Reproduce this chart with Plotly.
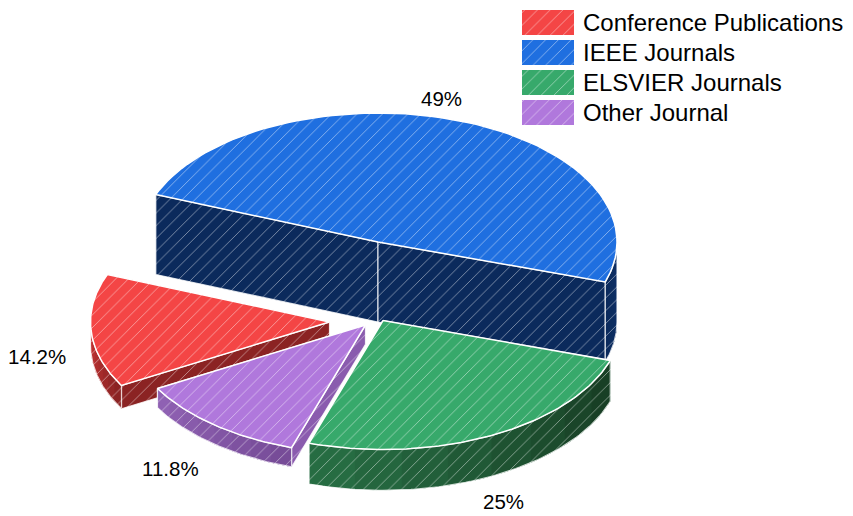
import math
import plotly.graph_objects as go

categories = ["Conference Publications", "IEEE Journals", "ELSVIER Journals", "Other Journal"]
values = [14.2, 49, 25, 11.8]
labels = ["14.2%", "49%", "25%", "11.8%"]

top_colors = ["#F44545", "#1F6FE0", "#37A96B", "#B078DC"]
radial_colors = ["#8B2323", "#0B2A5C", "#1B4A2C", "#8A5BAE"]
outer_start = ["#C93535", "#0B2A5C", "#266C42", "#8F61B3"]
outer_end = ["#8B2323", "#0E3068", "#183F25", "#774C98"]

centers = [(329.5, 322), (378, 242), (383, 320.5), (365.5, 325)]
label_pos = [(37, 356), (441, 98), (503, 501), (170, 468)]
RX, RY = 239, 129
START = 209.5
DEPTH_PER_VALUE = 80 / 49
HATCH = "rgba(255,255,255,0.55)"

fig = go.Figure()


def pt(c, t, dy=0):
    return c[0] + RX * math.cos(math.radians(t)), c[1] - RY * math.sin(math.radians(t)) + dy


def arc(c, a, b, dy=0, n=80):
    return [pt(c, a + (b - a) * i / n, dy) for i in range(n + 1)]


def mix(c1, c2, f):
    p = [int(c1[i:i + 2], 16) for i in (1, 3, 5)]
    q = [int(c2[i:i + 2], 16) for i in (1, 3, 5)]
    return "#%02x%02x%02x" % tuple(round(u + (v - u) * f) for u, v in zip(p, q))


def poly(points, color, name, line=None, width=1.2, hatch=True):
    xs = [p[0] for p in points] + [points[0][0]]
    ys = [p[1] for p in points] + [points[0][1]]
    kw = {}
    if hatch:
        kw["fillpattern"] = dict(shape="/", size=9, solidity=0.09, bgcolor=color, fgcolor=HATCH, fillmode="replace")
    fig.add_trace(go.Scatter(
        x=xs, y=ys, mode="lines", fill="toself", name=name, showlegend=False,
        hoverinfo="skip", fillcolor=color,
        line=dict(color=line or "rgba(0,0,0,0)", width=width if line else 0),
        **kw,
    ))


def draw_slice(i, a0, a1):
    c = centers[i]
    h = values[i] * DEPTH_PER_VALUE
    name = categories[i]
    edge = "rgba(255,255,255,0.8)"
    for t in sorted([a0, a1], key=lambda t: math.sin(math.radians(t)), reverse=True):
        poly([c, pt(c, t), pt(c, t, h), (c[0], c[1] + h)], radial_colors[i], name, edge)
    lo, hi = min(a0, a1), max(a0, a1)
    spans = []
    for k in (-360, 0, 360):
        l, u = max(lo, -180 + k), min(hi, 0 + k)
        if l < u:
            spans.append((l, u))
    for l, u in spans:
        segs = 8
        for s in range(segs):
            p = l + (u - l) * s / segs
            f = s / (segs - 1)
            # each band runs to the end of the rim and is overpainted by the next, so no seams
            poly(arc(c, p, u, 0, 40) + arc(c, u, p, h, 40), mix(outer_start[i], outer_end[i], f), name)
        poly(arc(c, l, u, 0) + arc(c, u, l, h), "rgba(0,0,0,0)", name, edge, hatch=False)
    poly([c] + arc(c, a0, a1), top_colors[i], name, "#FFFFFF", 1.5)


angles = []
a = START
for v in values:
    b = a - v * 3.6
    angles.append((a, b))
    a = b

for i in [1, 0, 3, 2]:
    draw_slice(i, *angles[i])

for i, (name, col) in enumerate(zip(categories, top_colors)):
    y0 = 10 + 30 * i
    poly([(522, y0), (574, y0), (574, y0 + 25), (522, y0 + 25)], col, name)
    fig.add_annotation(x=581, y=y0 + 12.5, text=name, xanchor="left", yanchor="middle", showarrow=False,
                       font=dict(family="Liberation Sans, Arial", size=24, color="#000000"))

for lab, (x, y) in zip(labels, label_pos):
    fig.add_annotation(x=x, y=y, text=lab, xanchor="center", yanchor="middle", showarrow=False,
                       font=dict(family="Liberation Sans, Arial", size=20.5, color="#000000"))

fig.update_layout(
    width=853, height=516, margin=dict(l=0, r=0, t=0, b=0),
    paper_bgcolor="#FFFFFF", plot_bgcolor="#FFFFFF", showlegend=False,
    xaxis=dict(range=[0, 853], visible=False, fixedrange=True),
    yaxis=dict(range=[516, 0], visible=False, fixedrange=True),
)
fig.write_html("out.html", config={"displayModeBar": False},
               post_script="document.body.style.margin='0';document.body.style.overflow='hidden';")
